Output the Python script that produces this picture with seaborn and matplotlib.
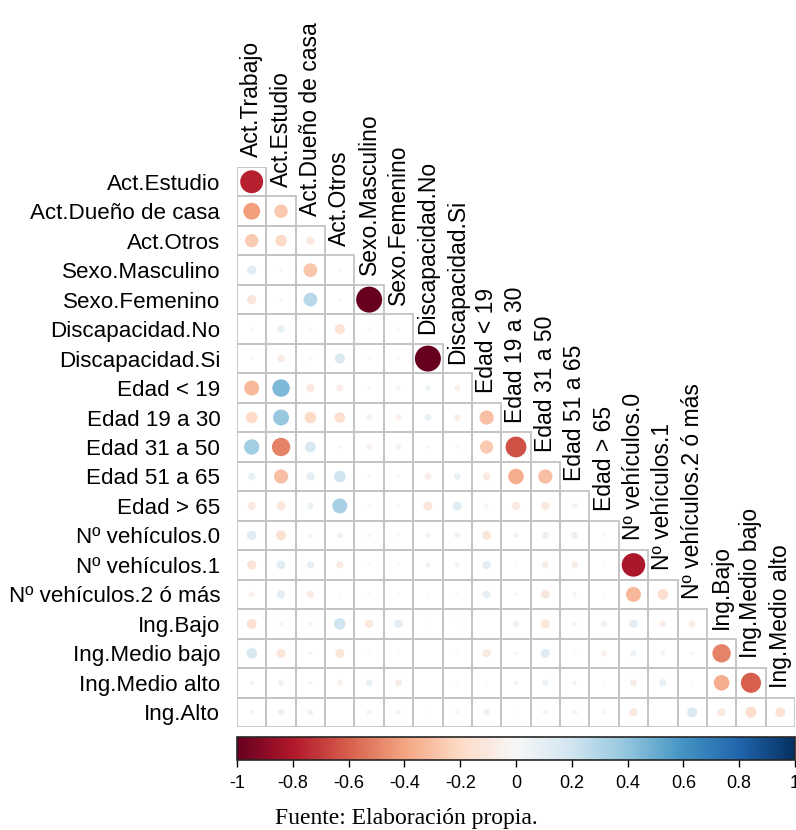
import numpy as np
import pandas as pd
import matplotlib
matplotlib.use("Agg")
import matplotlib.pyplot as plt
import seaborn as sns

# %% data - lower triangle of the correlation matrix
variables = ["Act.Trabajo", "Act.Estudio", "Act.Dueño de casa", "Act.Otros",
             "Sexo.Masculino", "Sexo.Femenino", "Discapacidad.No", "Discapacidad.Si",
             "Edad < 19", "Edad 19 a 30", "Edad 31 a 50", "Edad 51 a 65", "Edad > 65",
             "Nº vehículos.0", "Nº vehículos.1", "Nº vehículos.2 ó más",
             "Ing.Bajo", "Ing.Medio bajo", "Ing.Medio alto", "Ing.Alto"]

r_act_estudio = [-0.78]
r_act_duenio = [-0.42, -0.27]
r_act_otros = [-0.26, -0.2, -0.1]
r_sexo_masc = [0.12, 0.02, -0.28, 0.01]
r_sexo_fem = [-0.13, -0.02, 0.28, -0.01, -1.0]
r_disc_no = [0.01, 0.08, 0.02, -0.15, 0.01, -0.01]
r_disc_si = [-0.01, -0.08, -0.02, 0.15, -0.01, 0.01, -1.0]
r_edad_19 = [-0.33, 0.45, -0.1, -0.07, 0.02, -0.03, 0.05, -0.05]
r_edad_30 = [-0.2, 0.38, -0.2, -0.17, 0.05, -0.05, 0.07, -0.07, -0.3]
r_edad_50 = [0.35, -0.5, 0.17, -0.02, -0.05, 0.04, -0.02, 0.01, -0.26, -0.64]
r_edad_65 = [0.08, -0.3, 0.1, 0.2, -0.02, 0.01, -0.07, 0.07, -0.09, -0.36, -0.3]
r_edad_mas65 = [-0.1, -0.12, 0.06, 0.33, 0.01, -0.01, -0.12, 0.12, -0.03, -0.1, -0.1, -0.04]
r_veh_0 = [0.13, -0.15, -0.03, 0.05, -0.02, 0.01, -0.04, 0.05, -0.12, -0.04, 0.07, 0.07, 0.01]
r_veh_1 = [-0.13, 0.11, 0.08, -0.08, 0.01, -0.01, 0.04, -0.04, 0.1, 0.01, -0.07, -0.07, 0.01, -0.82]
r_veh_2 = [-0.05, 0.1, -0.08, 0.01, 0.01, -0.01, 0.01, -0.01, 0.09, 0.02, -0.11, -0.03, 0.01,
           -0.33, -0.17]
r_ing_bajo = [-0.15, 0.02, 0.02, 0.2, -0.1, 0.1, -0.01, 0.01, 0.0, 0.06, -0.12, 0.03, 0.06,
              0.1, -0.07, -0.07]
r_ing_mbajo = [0.17, -0.12, -0.02, -0.12, 0.01, -0.01, 0.0, -0.01, -0.1, -0.02, 0.12, 0.01,
               -0.05, 0.06, -0.03, -0.02, -0.5]
r_ing_malto = [-0.03, 0.05, 0.02, -0.05, 0.07, -0.07, 0.0, 0.01, 0.01, -0.03, 0.06, -0.03,
               0.01, -0.07, 0.08, 0.01, -0.36, -0.6]
r_ing_alto = [-0.03, 0.07, -0.05, 0.0, 0.04, -0.04, 0.01, -0.02, 0.06, 0.01, -0.04, -0.04,
              -0.02, -0.1, 0.0, 0.15, -0.1, -0.18, -0.15]

cbar_ticks = [-1, -0.8, -0.6, -0.4, -0.2, 0, 0.2, 0.4, 0.6, 0.8, 1]
cbar_labels = ["-1", "-0.8", "-0.6", "-0.4", "-0.2", "0", "0.2", "0.4", "0.6", "0.8", "1"]

rows = [r_act_estudio, r_act_duenio, r_act_otros, r_sexo_masc, r_sexo_fem, r_disc_no,
        r_disc_si, r_edad_19, r_edad_30, r_edad_50, r_edad_65, r_edad_mas65, r_veh_0,
        r_veh_1, r_veh_2, r_ing_bajo, r_ing_mbajo, r_ing_malto, r_ing_alto]

# long format table
recs = []
for i, vals in enumerate(rows, start=1):
    for j, v in enumerate(vals):
        recs.append({"col": j, "row": i, "r": v, "abs_r": abs(v)})
df = pd.DataFrame(recs)

# %% plot
sns.set_style("white")
plt.rcParams["font.family"] = ["Liberation Sans", "DejaVu Sans"]
plt.rcParams["text.color"] = "black"
plt.rcParams["xtick.color"] = "black"
plt.rcParams["ytick.color"] = "black"

fig = plt.figure(figsize=(7.96, 8.30), dpi=100)
ax = fig.add_axes([237 / 796, 1 - 727 / 830, 558 / 796, 560 / 830])

n = len(rows)
# cell grid (staircase)
for i in range(1, n + 1):
    for j in range(i):
        ax.add_patch(plt.Rectangle((j - 0.5, i - 0.5), 1, 1, fill=False,
                                   edgecolor="#c4c4c4", lw=1.3, zorder=1))

sns.scatterplot(data=df, x="col", y="row", hue="r", size="abs_r",
                palette="RdBu", hue_norm=(-1, 1), sizes=(0, 350), size_norm=(0, 1),
                linewidth=0, legend=False, ax=ax, zorder=3)

ax.set_xlim(-0.5, n - 0.5)
ax.set_ylim(n + 0.5, 0.5)
for s in ax.spines.values():
    s.set_visible(False)
ax.set_xlabel("")
ax.set_ylabel("")
ax.set_xticks([])
ax.set_yticks(range(1, n + 1))
ax.set_yticklabels(variables[1:], fontsize=16.1)
ax.tick_params(axis="y", length=0, pad=12)

# column labels above the diagonal
for j in range(n):
    ax.annotate(variables[j], xy=(j, j + 0.5), xytext=(0, 7), textcoords="offset points",
                rotation=90, ha="center", va="bottom", fontsize=16.5, annotation_clip=False)

# colorbar
cax = fig.add_axes([237 / 796, 1 - 760 / 830, 558 / 796, 23 / 830])
sm = plt.cm.ScalarMappable(cmap="RdBu", norm=plt.Normalize(-1, 1))
cb = fig.colorbar(sm, cax=cax, orientation="horizontal")
cb.set_ticks(cbar_ticks)
cb.set_ticklabels(cbar_labels)
cb.outline.set_linewidth(1.2)
cax.tick_params(axis="x", length=5, width=1, labelsize=13, pad=6)

fig.text(0.51, 1 - 818 / 830, "Fuente: Elaboración propia.", ha="center", va="center",
         fontsize=17, family=["Liberation Serif", "DejaVu Serif"])

fig.savefig("out.png", dpi=100)
